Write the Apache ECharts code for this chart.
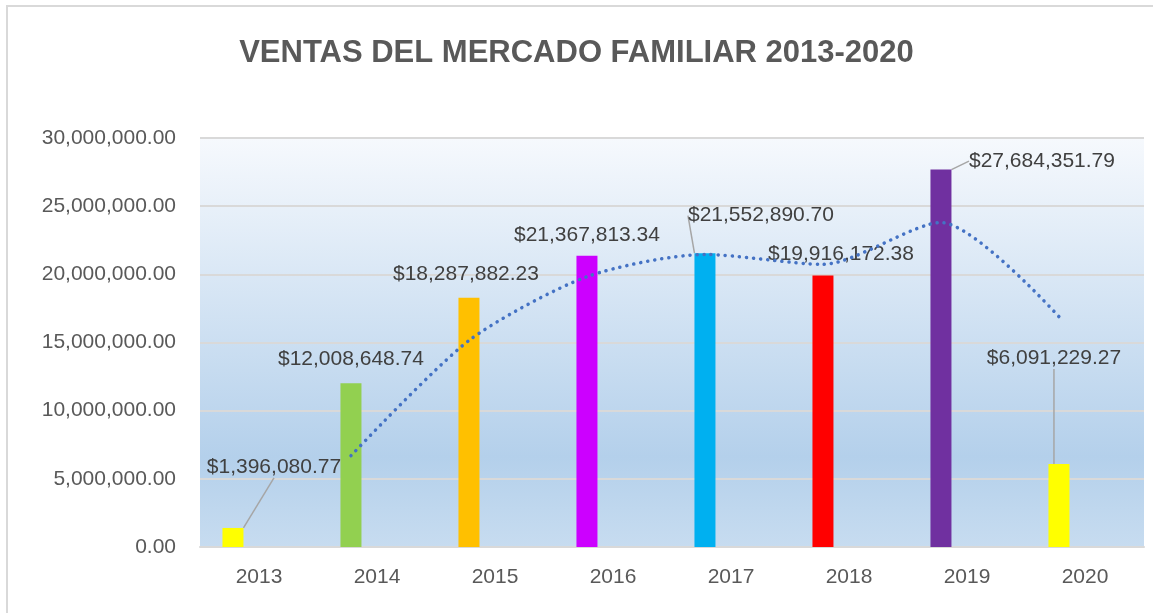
<!DOCTYPE html>
<html>
<head>
<meta charset="utf-8">
<title>Ventas del mercado familiar</title>
<script src="https://cdn.jsdelivr.net/npm/echarts@6/dist/echarts.min.js"></script>
<style>
  html, body { margin: 0; padding: 0; background: #fff; }
  #chart { width: 1153px; height: 613px; }
</style>
</head>
<body>
<div id="chart"></div>
<script>
// datos
const anios = ["2013", "2014", "2015", "2016", "2017", "2018", "2019", "2020"];
const ventas = [1396080.77, 12008648.74, 18287882.23, 21367813.34, 21552890.7, 19916172.38, 27684351.79, 6091229.27];
// linea de tendencia (media movil de 2 periodos)
const tendencia = [null, 6700000, 15150000, 19830000, 21460000, 20730000, 23800000, 16890000];
const colores = ["#FFFF00", "#92D050", "#FFC000", "#CC00FF", "#00B0F0", "#FF0000", "#7030A0", "#FFFF00"];

// desplazamiento de las etiquetas [dx, dy, linea guia]
const labelOffsets = [
  [41, -45, true],
  [0, -9, false],
  [-3, -8, false],
  [0, -5, false],
  [56, -22, true],
  [18, -6, false],
  [101, 7, true],
  [-5, -90, true]
];

const money = v => "$" + v.toLocaleString("en-US", { minimumFractionDigits: 2, maximumFractionDigits: 2 });
const num = v => v.toLocaleString("en-US", { minimumFractionDigits: 2, maximumFractionDigits: 2 });

const chart = echarts.init(document.getElementById("chart"));

const barData = ventas.map((v, i) => ({
  value: v,
  itemStyle: { color: colores[i] },
  labelLine: { show: labelOffsets[i][2] }
}));

chart.setOption({
  animation: false,
  textStyle: { fontFamily: "Liberation Sans, Arial, sans-serif" },
  title: {
    text: "VENTAS DEL MERCADO FAMILIAR 2013-2020",
    left: "center",
    top: 33,
    textStyle: {
      fontSize: 31,
      fontWeight: "bold",
      color: "#595959",
      fontFamily: "Liberation Sans, Arial, sans-serif"
    }
  },
  graphic: [
    {
      type: "rect",
      shape: { x: 7, y: 6, width: 1200, height: 700 },
      style: { fill: null, stroke: "#D9D9D9", lineWidth: 2 },
      silent: true
    }
  ],
  grid: [
    {
      left: 200,
      right: 9,
      top: 138,
      bottom: 66,
      show: true,
      borderWidth: 0,
      backgroundColor: {
        type: "linear",
        x: 0, y: 0, x2: 0, y2: 1,
        colorStops: [
          { offset: 0, color: "#F6F9FD" },
          { offset: 0.78, color: "#B4D0EB" },
          { offset: 1, color: "#C7DCF0" }
        ]
      }
    },
    { left: 174, right: 35, top: 138, bottom: 66 }
  ],
  xAxis: [
    {
      type: "category",
      data: anios,
      gridIndex: 0,
      axisLine: { lineStyle: { color: "#D9D9D9", width: 2 } },
      axisTick: { show: false },
      axisLabel: { color: "#595959", fontSize: 21, margin: 20 }
    },
    {
      type: "category",
      data: anios,
      gridIndex: 1,
      show: false
    }
  ],
  yAxis: [
    {
      type: "value",
      gridIndex: 0,
      min: 0,
      max: 30000000,
      interval: 5000000,
      axisLine: { show: false },
      axisTick: { show: false },
      splitLine: { lineStyle: { color: "#D9D9D9", width: 2 } },
      axisLabel: { color: "#595959", fontSize: 21, margin: 24, formatter: num }
    },
    {
      type: "value",
      gridIndex: 1,
      min: 0,
      max: 30000000,
      show: false
    }
  ],
  series: [
    {
      name: "Ventas",
      type: "bar",
      xAxisIndex: 0,
      yAxisIndex: 0,
      barWidth: 21,
      barGap: "148%",
      data: barData,
      label: {
        show: true,
        position: "top",
        distance: 5,
        color: "#404040",
        fontSize: 21,
        formatter: p => money(p.value)
      },
      labelLine: {
        show: true,
        lineStyle: { color: "#A6A6A6", width: 1.5 }
      },
      labelLayout: p => ({
        dx: labelOffsets[p.dataIndex][0],
        dy: labelOffsets[p.dataIndex][1],
        hideOverlap: false
      }),
      z: 3
    },
    {
      name: "vacio",
      type: "bar",
      xAxisIndex: 0,
      yAxisIndex: 0,
      barWidth: 21,
      data: anios.map(() => null),
      silent: true
    },
    {
      name: "Tendencia",
      type: "line",
      xAxisIndex: 1,
      yAxisIndex: 1,
      data: tendencia,
      smooth: 0.25,
      showSymbol: false,
      connectNulls: false,
      lineStyle: {
        color: "#4472C4",
        width: 3.5,
        type: [0.1, 7],
        cap: "round"
      },
      z: 4
    }
  ]
});
</script>
</body>
</html>
